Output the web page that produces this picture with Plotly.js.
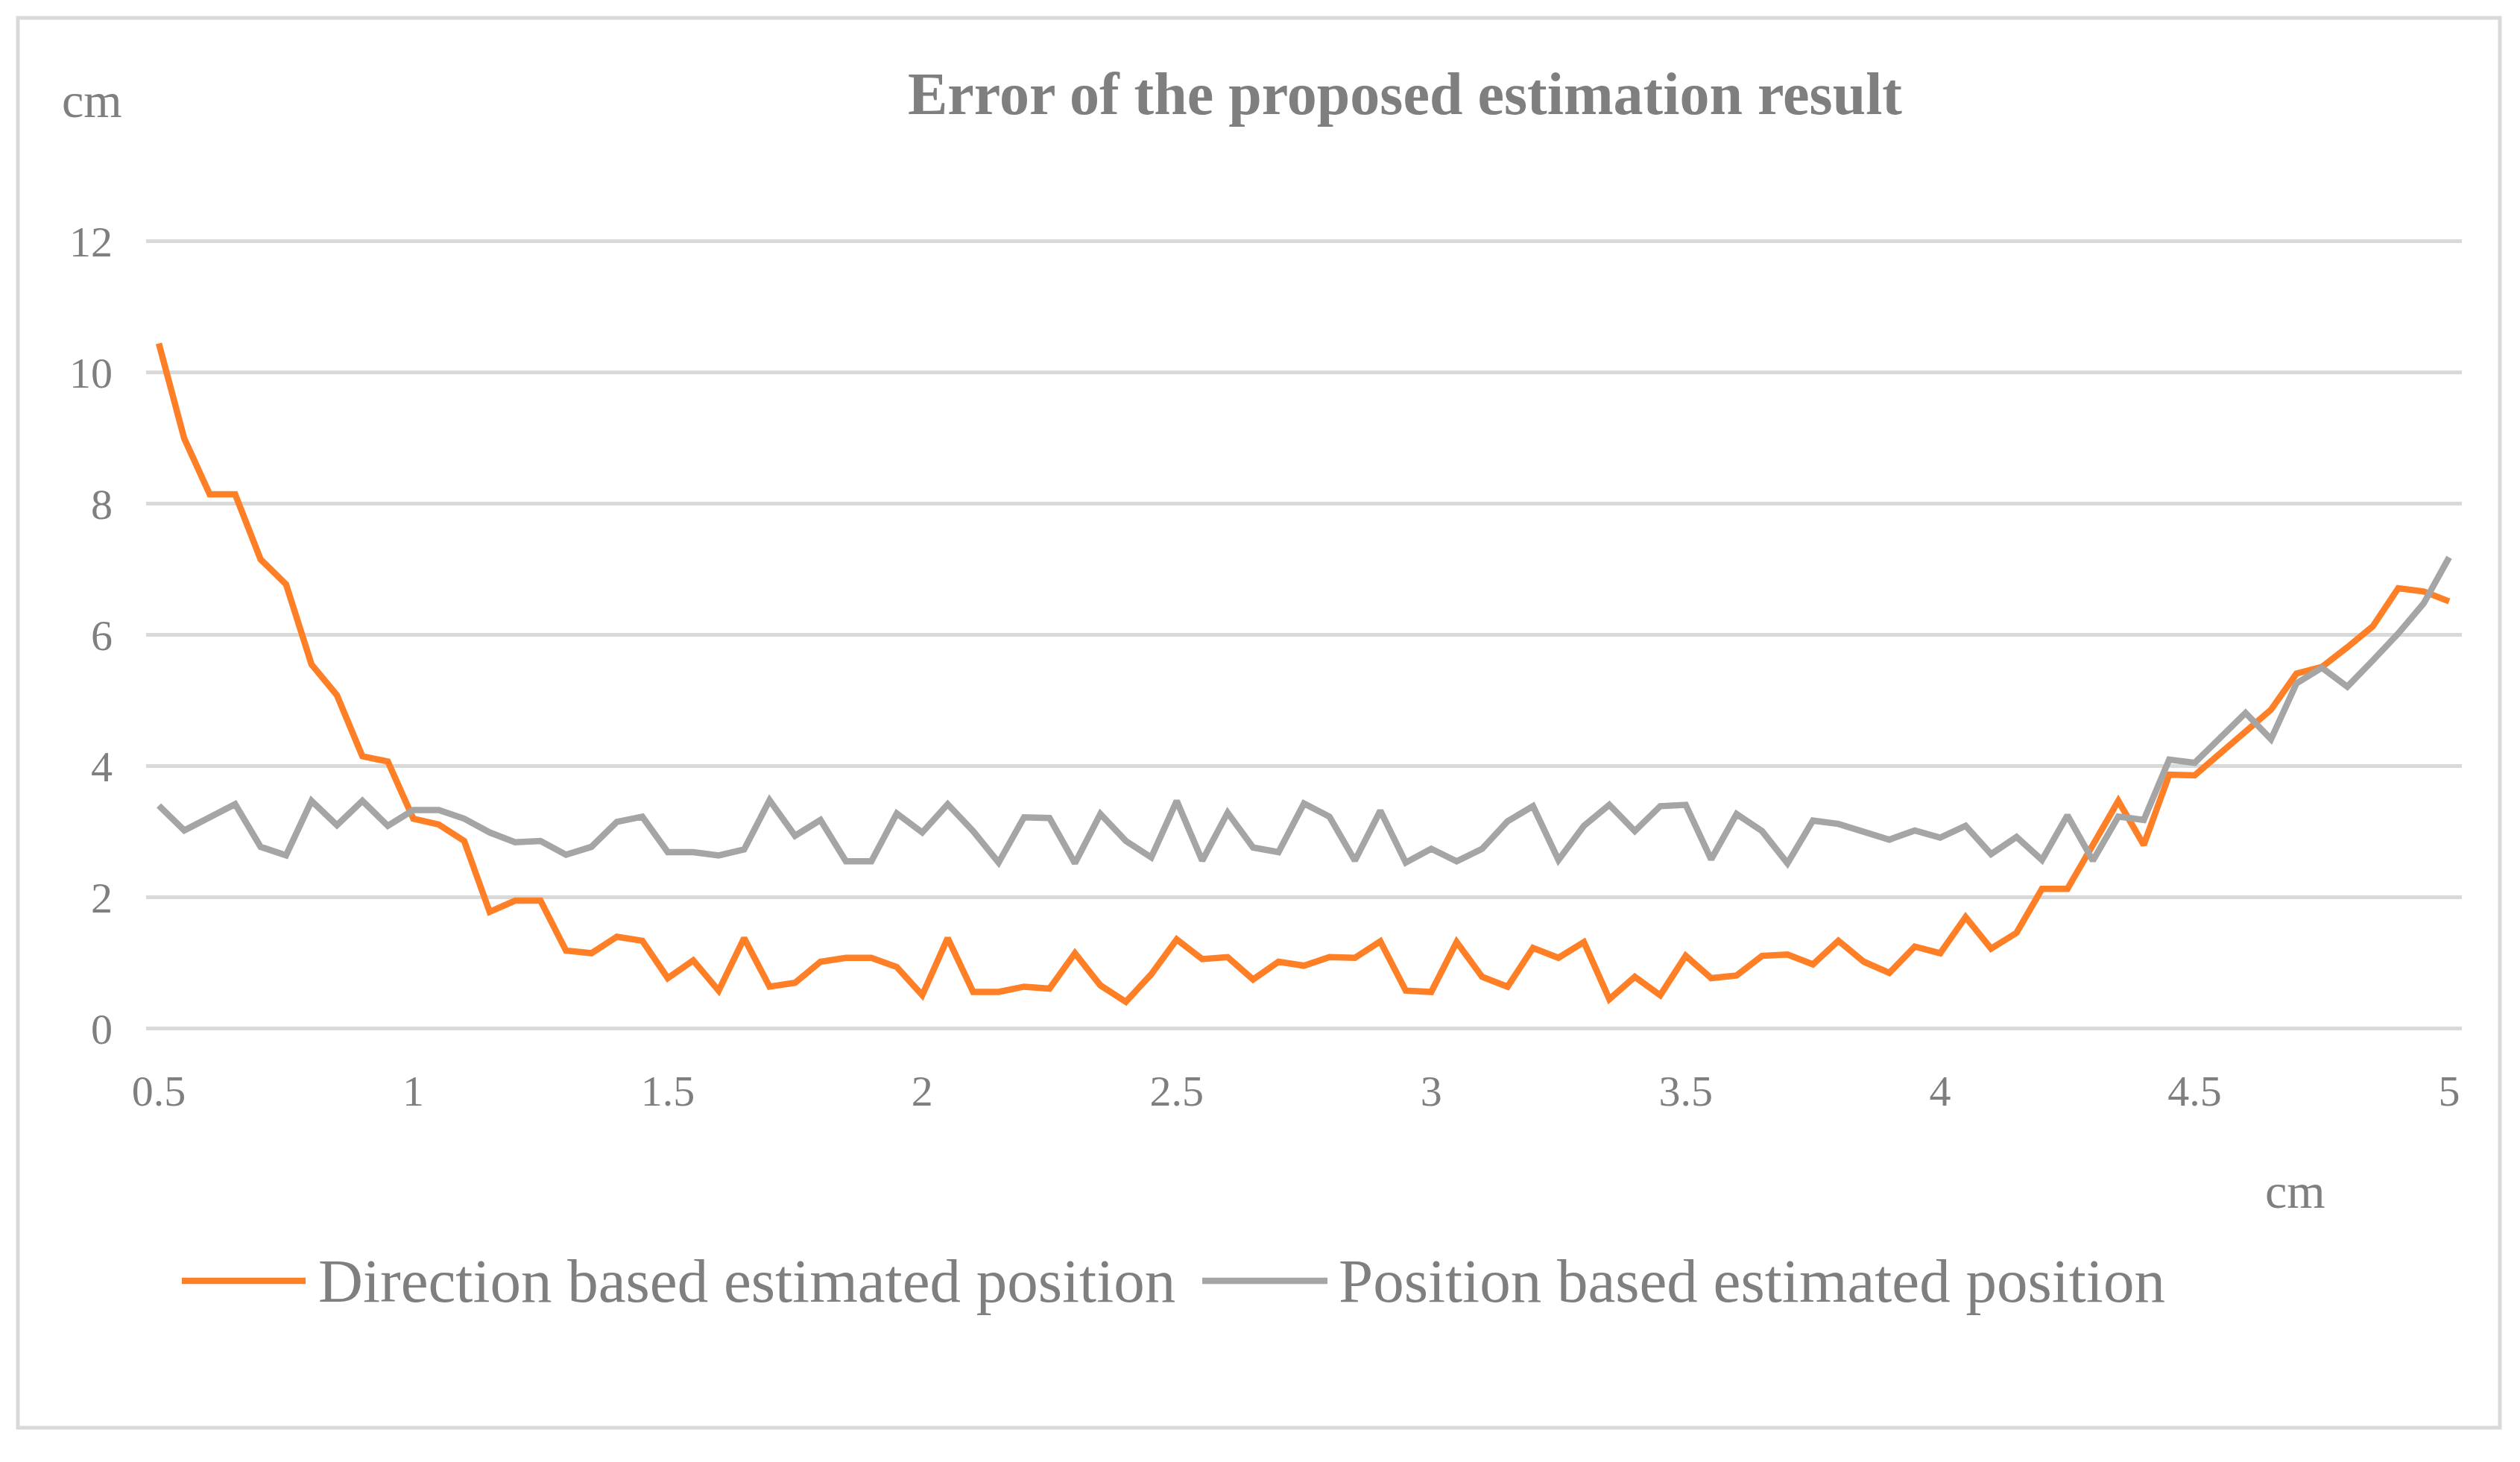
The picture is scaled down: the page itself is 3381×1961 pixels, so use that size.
<!DOCTYPE html>
<html>
<head>
<meta charset="utf-8">
<script src="https://cdn.plot.ly/plotly-3.0.1.min.js"></script>
<style>
  html, body { margin: 0; padding: 0; background: #ffffff; }
  #chart { width: 3381px; height: 1961px; }
</style>
</head>
<body>
<div id="chart"></div>
<script>
// ---- data ----
const chartTitle = "Error of the proposed estimation result";
const yUnit = "cm";
const xUnit = "cm";
const seriesNames = ["Direction based estimated position", "Position based estimated position"];

const xValues = [
  0.5, 0.55, 0.6, 0.65, 0.7, 0.75, 0.8, 0.85, 0.9, 0.95,
  1.0, 1.05, 1.1, 1.15, 1.2, 1.25, 1.3, 1.35, 1.4, 1.45,
  1.5, 1.55, 1.6, 1.65, 1.7, 1.75, 1.8, 1.85, 1.9, 1.95,
  2.0, 2.05, 2.1, 2.15, 2.2, 2.25, 2.3, 2.35, 2.4, 2.45,
  2.5, 2.55, 2.6, 2.65, 2.7, 2.75, 2.8, 2.85, 2.9, 2.95,
  3.0, 3.05, 3.1, 3.15, 3.2, 3.25, 3.3, 3.35, 3.4, 3.45,
  3.5, 3.55, 3.6, 3.65, 3.7, 3.75, 3.8, 3.85, 3.9, 3.95,
  4.0, 4.05, 4.1, 4.15, 4.2, 4.25, 4.3, 4.35, 4.4, 4.45,
  4.5, 4.55, 4.6, 4.65, 4.7, 4.75, 4.8, 4.85, 4.9, 4.95,
  5.0
];

const directionBased = [
  10.44, 8.99, 8.14, 8.14, 7.15, 6.77, 5.55, 5.08, 4.15, 4.07,
  3.20, 3.11, 2.86, 1.78, 1.95, 1.95, 1.19, 1.15, 1.40, 1.34,
  0.77, 1.04, 0.58, 1.38, 0.64, 0.70, 1.02, 1.08, 1.08, 0.94,
  0.51, 1.38, 0.56, 0.56, 0.64, 0.61, 1.15, 0.66, 0.41, 0.83,
  1.36, 1.06, 1.09, 0.75, 1.02, 0.96, 1.09, 1.08, 1.33, 0.58,
  0.56, 1.32, 0.79, 0.64, 1.23, 1.08, 1.32, 0.45, 0.79, 0.51,
  1.11, 0.77, 0.81, 1.11, 1.13, 0.98, 1.34, 1.02, 0.85, 1.25,
  1.15, 1.70, 1.22, 1.46, 2.13, 2.13, 2.80, 3.47, 2.80, 3.87,
  3.86, 4.19, 4.51, 4.86, 5.41, 5.51, 5.81, 6.13, 6.71, 6.66,
  6.51
];

const positionBased = [
  3.40, 3.02, 3.22, 3.42, 2.77, 2.64, 3.47, 3.10, 3.47, 3.09,
  3.33, 3.33, 3.20, 2.99, 2.84, 2.86, 2.65, 2.77, 3.15, 3.23,
  2.69, 2.69, 2.64, 2.73, 3.48, 2.94, 3.18, 2.55, 2.55, 3.28,
  2.99, 3.42, 3.01, 2.53, 3.22, 3.21, 2.52, 3.27, 2.86, 2.61,
  3.47, 2.56, 3.29, 2.76, 2.69, 3.43, 3.23, 2.56, 3.32, 2.53,
  2.74, 2.55, 2.74, 3.16, 3.39, 2.57, 3.09, 3.41, 3.01, 3.39,
  3.41, 2.58, 3.27, 3.01, 2.52, 3.17, 3.12, 2.99, 2.88, 3.02,
  2.91, 3.09, 2.66, 2.92, 2.57, 3.25, 2.56, 3.23, 3.18, 4.10,
  4.05, 4.43, 4.81, 4.41, 5.26, 5.50, 5.21, 5.61, 6.02, 6.48,
  7.18
];

const xTickVals = [0.5, 1, 1.5, 2, 2.5, 3, 3.5, 4, 4.5, 5];
const xTickText = ["0.5", "1", "1.5", "2", "2.5", "3", "3.5", "4", "4.5", "5"];
const yTickVals = [0, 2, 4, 6, 8, 10, 12];
const yTickText = ["0", "2", "4", "6", "8", "10", "12"];

// ---- styles ----
const ORANGE = "#FF7F27";
const GREY = "#A5A5A5";
const TEXT = "#7F7F7F";
const GRID = "#D9D9D9";
const FONT = "'Palatino Linotype', 'Book Antiqua', Palatino, 'Liberation Serif', serif";

const W = 3381, H = 1961;
// plot area padded by a few pixels so gridlines at 0 and 12 are drawn
const L = 196, R = 78, T = 321, B = 579;
const pw = W - L - R, ph = H - T - B;
const px = (xp) => (xp - L) / pw;        // pixel -> paper x
const py = (yp) => (H - B - yp) / ph;    // pixel -> paper y

const traces = [
  { x: xValues, y: directionBased, name: seriesNames[0], type: "scatter", mode: "lines",
    line: { color: ORANGE, width: 8.5, shape: "linear" }, showlegend: false },
  { x: xValues, y: positionBased, name: seriesNames[1], type: "scatter", mode: "lines",
    line: { color: GREY, width: 8.5, shape: "linear" }, showlegend: false }
];

const legendY = py(1718);
const shapes = [
  { type: "rect", xref: "paper", yref: "paper", x0: px(24), x1: px(3354), y0: py(1915), y1: py(24),
    line: { color: GRID, width: 5 }, fillcolor: "rgba(0,0,0,0)", layer: "below" },
  { type: "line", xref: "paper", yref: "paper", x0: px(244), x1: px(410), y0: legendY, y1: legendY,
    line: { color: ORANGE, width: 8.5 } },
  { type: "line", xref: "paper", yref: "paper", x0: px(1613), x1: px(1781), y0: legendY, y1: legendY,
    line: { color: GREY, width: 8.5 } }
];

const annotations = [
  { text: yUnit, xref: "paper", yref: "paper", x: px(123), y: py(134), xanchor: "center", yanchor: "middle",
    showarrow: false, font: { family: FONT, size: 66, color: TEXT } },
  { text: xUnit, xref: "paper", yref: "paper", x: px(3079), y: py(1597), xanchor: "center", yanchor: "middle",
    showarrow: false, font: { family: FONT, size: 66, color: TEXT } },
  { text: seriesNames[0], xref: "paper", yref: "paper", x: px(425), y: legendY, xanchor: "left", yanchor: "middle",
    showarrow: false, font: { family: FONT, size: 83, color: TEXT } },
  { text: seriesNames[1], xref: "paper", yref: "paper", x: px(1794), y: legendY, xanchor: "left", yanchor: "middle",
    showarrow: false, font: { family: FONT, size: 83, color: TEXT } }
];

const layout = {
  width: W, height: H,
  margin: { l: L, r: R, t: T, b: B, pad: 0 },
  paper_bgcolor: "#ffffff", plot_bgcolor: "#ffffff",
  showlegend: false,
  title: { text: "<b>" + chartTitle + "</b>", xref: "paper", x: px(1885), xanchor: "center",
           yref: "container", y: 1 - 125 / H, yanchor: "middle",
           font: { family: FONT, size: 80, color: TEXT } },
  xaxis: {
    range: [0.475, 5.025], tickvals: xTickVals, ticktext: xTickText,
    showgrid: false, zeroline: false, showline: false, ticks: "",
    ticklabelstandoff: 42,
    tickfont: { family: FONT, size: 58, color: TEXT }
  },
  yaxis: {
    range: [-0.025, 12.025], tickvals: yTickVals, ticktext: yTickText,
    showgrid: true, gridcolor: GRID, gridwidth: 5, zeroline: false, showline: false, ticks: "",
    ticklabelstandoff: 44,
    tickfont: { family: FONT, size: 58, color: TEXT }
  },
  shapes: shapes,
  annotations: annotations
};

Plotly.newPlot("chart", traces, layout, { staticPlot: true, displayModeBar: false });
</script>
</body>
</html>
